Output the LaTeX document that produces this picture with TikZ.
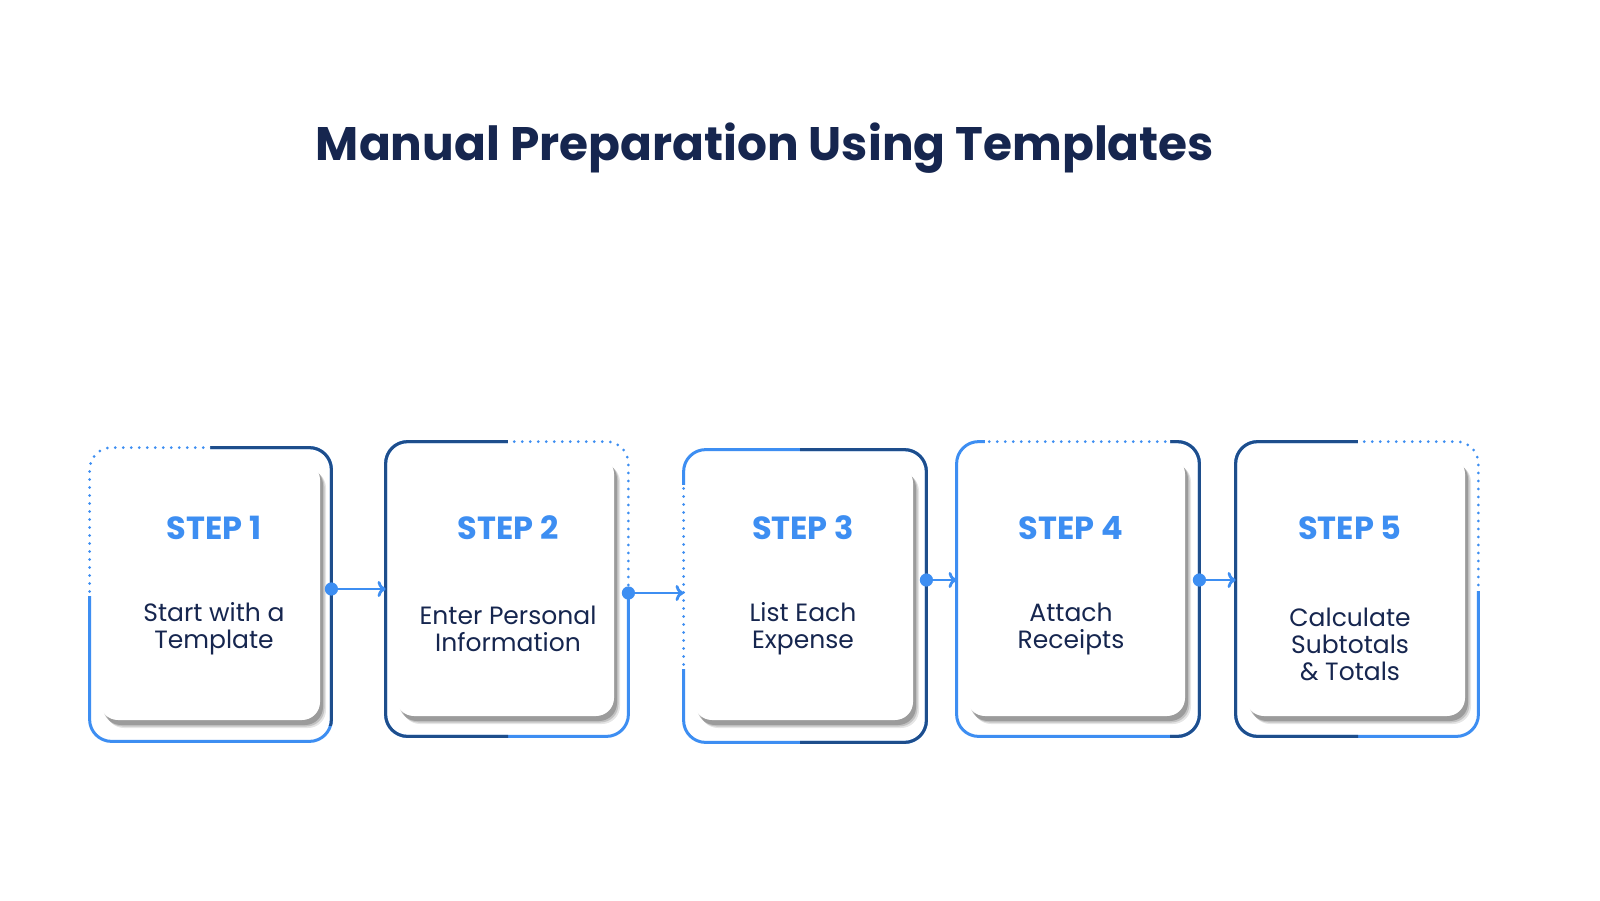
\documentclass[tikz,border=0pt]{standalone}
\usepackage{fontspec}
\setmainfont{Poppins}
\usetikzlibrary{arrows.meta}
\definecolor{navy}{HTML}{16264F}
\definecolor{lblue}{HTML}{3D8EF2}
\definecolor{dblue}{HTML}{1E4E8C}
\tikzset{
  frame/.style={inner sep=0pt, draw=none},
  steplbl/.style={font=\fontsize{16}{18}\selectfont\bfseries, text=lblue},
  bodytxt/.style={font=\fontsize{12.5}{13.5}\selectfont, text=navy, align=center},
  conn/.style={lblue, line width=1.4pt, -{To[length=4pt,width=8pt]}},
}
\newcommand\mkbox[5]{%
  \node[frame, minimum width={(#4-#2)*0.5pt}, minimum height={(#5-#3)*0.5pt}] (#1) at ({(#2+#4)/2},{(#3+#5)/2}) {};}
\newcommand\card[4]{%
  \foreach \o/\op in {6/0.10,4.5/0.15,3/0.2}{
    \fill[black, opacity=\op, rounded corners=9pt] (#1+\o,#2+\o+2) rectangle (#3+\o,#4+\o+2);}
  \fill[white, rounded corners=9pt] (#1,#2) rectangle (#3,#4);}
\newcommand\border[9]{%
  \draw[lblue, line width=1.5pt, rounded corners=11pt] (#1.south west) rectangle (#1.north east);
  \begin{scope}\clip (#2,#3) rectangle (#4,#5);
    \draw[dblue, line width=1.5pt, rounded corners=11pt] (#1.south west) rectangle (#1.north east);\end{scope}
  \begin{scope}\clip (#6,#7) rectangle (#8,#9);
    \draw[white, line width=3.5pt, rounded corners=11pt] (#1.south west) rectangle (#1.north east);
    \draw[lblue, line width=1.5pt, line cap=round, dash pattern=on 0pt off 4pt, rounded corners=11pt] (#1.south west) rectangle (#1.north east);\end{scope}}
\begin{document}
\begin{tikzpicture}[x=0.5pt,y=-0.5pt]
\useasboundingbox (0,0) rectangle (1600,900);
\fill[white] (0,0) rectangle (1600,900);
\node[font=\fontsize{23.5}{27}\selectfont\bfseries, text=navy] (title) at (765,148) {Manual Preparation Using Templates};
\mkbox{b1}{90}{448}{331}{741}
\mkbox{b2}{386}{442}{628}{736}
\mkbox{b3}{684}{450}{926}{742}
\mkbox{b4}{957}{442}{1199}{736}
\mkbox{b5}{1236}{442}{1478}{736}
\border{b1}{210}{430}{345}{725}{75}{430}{210}{595}
\border{b2}{370}{430}{508}{750}{508}{430}{645}{592}
\border{b3}{800}{430}{940}{760}{670}{485}{700}{668}
\border{b4}{1170}{430}{1215}{750}{985}{430}{1170}{460}
\border{b5}{1220}{430}{1358}{750}{1358}{430}{1495}{590}
\card{100}{462}{320}{720}
\card{396}{456}{614}{716}
\card{694}{465}{913}{720}
\card{967}{456}{1185}{716}
\card{1246}{456}{1465}{716}
\node[steplbl] (s1) at (214,528) {STEP 1};
\node[steplbl] (s2) at (508,528) {STEP 2};
\node[steplbl] (s3) at (803,528) {STEP 3};
\node[steplbl] (s4) at (1071,528) {STEP 4};
\node[steplbl] (s5) at (1350,528) {STEP 5};
\node[bodytxt] (t1) at (214,629) {Start with a\\Template};
\node[bodytxt] (t2) at (508,629) {Enter Personal\\Information};
\node[bodytxt] (t3) at (803,629) {List Each\\Expense};
\node[bodytxt] (t4) at (1071,629) {Attach\\Receipts};
\node[bodytxt] (t5) at (1350,644) {Calculate\\Subtotals\\\& Totals};
\coordinate (a1) at (b1.east |- 0,589); \coordinate (e1) at (b2.west |- 0,589);
\coordinate (a2) at (b2.east |- 0,593); \coordinate (e2) at (b3.west |- 0,593);
\coordinate (a3) at (b3.east |- 0,580); \coordinate (e3) at (b4.west |- 0,580);
\coordinate (a4) at (b4.east |- 0,580); \coordinate (e4) at (b5.west |- 0,580);
\foreach \i in {1,...,4}{
  \draw[conn] (a\i) -- (e\i);
  \fill[lblue] (a\i) circle (3.3pt);}
\end{tikzpicture}
\end{document}
